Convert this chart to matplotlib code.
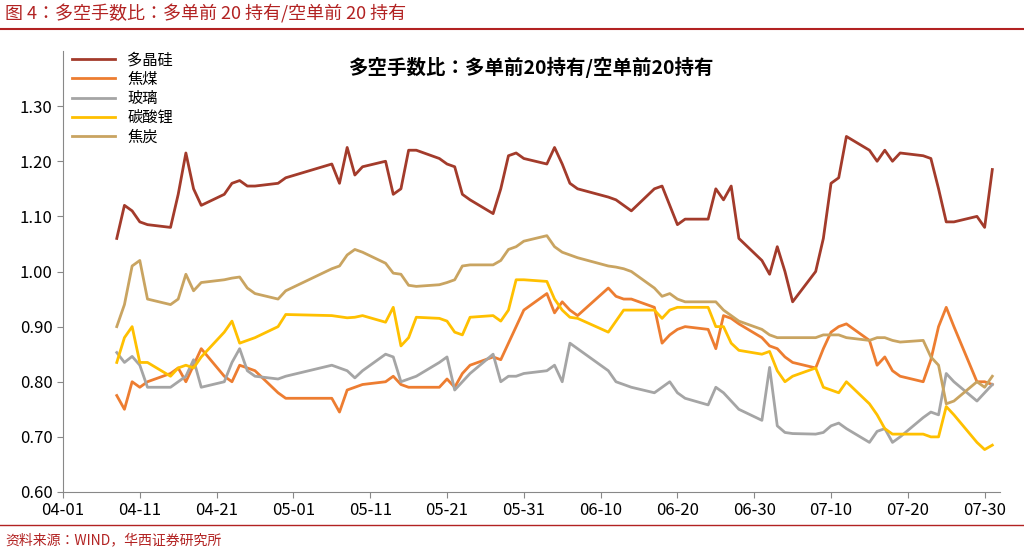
import matplotlib
matplotlib.use("Agg")
import matplotlib.pyplot as plt
import matplotlib.dates as mdates
import pandas as pd

plt.rcParams["font.family"] = ["Noto Sans CJK JP", "Noto Sans CJK SC", "Noto Sans CJK TC", "DejaVu Sans"]

# trading days
dates = pd.to_datetime(
    ["2024-04-%02d" % d for d in [8, 9, 10, 11, 12, 15, 16, 17, 18, 19, 22, 23, 24, 25, 26, 29, 30]]
    + ["2024-05-%02d" % d for d in [6, 7, 8, 9, 10, 13, 14, 15, 16, 17, 20, 21, 22, 23, 24, 27, 28, 29, 30, 31]]
    + ["2024-06-%02d" % d for d in [3, 4, 5, 6, 7, 11, 12, 13, 14, 17, 18, 19, 20, 21, 24, 25, 26, 27, 28]]
    + ["2024-07-%02d" % d for d in [1, 2, 3, 4, 5, 8, 9, 10, 11, 12, 15, 16, 17, 18, 19, 22, 23, 24, 25, 26, 29, 30, 31]]
)

polysilicon = [1.06, 1.12, 1.11, 1.09, 1.085, 1.08, 1.14, 1.215, 1.15, 1.12, 1.14, 1.16, 1.165, 1.155, 1.155, 1.16, 1.17,
               1.195, 1.16, 1.225, 1.175, 1.19, 1.20, 1.14, 1.15, 1.22, 1.22, 1.205, 1.195, 1.19, 1.14, 1.13, 1.105, 1.15, 1.21, 1.215, 1.205,
               1.195, 1.225, 1.195, 1.16, 1.15, 1.135, 1.13, 1.12, 1.11, 1.15, 1.155, 1.12, 1.085, 1.095, 1.095, 1.15, 1.13, 1.155, 1.06,
               1.02, 0.995, 1.045, 1.00, 0.945, 1.00, 1.06, 1.16, 1.17, 1.245, 1.22, 1.20, 1.22, 1.20, 1.215, 1.21, 1.205, 1.15, 1.09, 1.09, 1.10, 1.08, 1.185]
coking_coal = [0.775, 0.75, 0.80, 0.79, 0.80, 0.815, 0.825, 0.80, 0.83, 0.86, 0.81, 0.80, 0.83, 0.825, 0.82, 0.78, 0.77,
               0.77, 0.745, 0.785, 0.79, 0.795, 0.80, 0.81, 0.795, 0.79, 0.79, 0.79, 0.805, 0.79, 0.815, 0.83, 0.845, 0.84, 0.87, 0.90, 0.93,
               0.96, 0.925, 0.945, 0.93, 0.92, 0.97, 0.955, 0.95, 0.95, 0.935, 0.87, 0.885, 0.895, 0.90, 0.895, 0.86, 0.92, 0.915, 0.905,
               0.88, 0.865, 0.86, 0.845, 0.835, 0.825, 0.86, 0.89, 0.90, 0.905, 0.875, 0.83, 0.845, 0.82, 0.81, 0.80, 0.84, 0.90, 0.935, 0.90, 0.80, 0.80, 0.795]
glass = [0.853, 0.835, 0.846, 0.83, 0.79, 0.79, 0.80, 0.81, 0.84, 0.79, 0.80, 0.835, 0.86, 0.82, 0.81, 0.805, 0.81,
         0.83, 0.825, 0.82, 0.807, 0.82, 0.85, 0.845, 0.80, 0.805, 0.81, 0.835, 0.845, 0.785, 0.80, 0.815, 0.85, 0.80, 0.81, 0.81, 0.815,
         0.82, 0.83, 0.80, 0.87, 0.86, 0.82, 0.80, 0.795, 0.79, 0.78, 0.79, 0.80, 0.78, 0.77, 0.758, 0.79, 0.78, 0.765, 0.75,
         0.73, 0.826, 0.72, 0.708, 0.706, 0.705, 0.708, 0.72, 0.725, 0.715, 0.69, 0.71, 0.715, 0.69, 0.70, 0.735, 0.745, 0.74, 0.815, 0.80, 0.765, 0.78, 0.795]
lithium = [0.835, 0.88, 0.90, 0.835, 0.835, 0.81, 0.825, 0.83, 0.825, 0.845, 0.89, 0.91, 0.87, 0.875, 0.88, 0.90, 0.922,
           0.92, 0.918, 0.916, 0.917, 0.92, 0.908, 0.935, 0.865, 0.88, 0.917, 0.915, 0.91, 0.89, 0.885, 0.917, 0.92, 0.91, 0.93, 0.985, 0.985,
           0.982, 0.95, 0.93, 0.917, 0.915, 0.89, 0.91, 0.93, 0.93, 0.93, 0.915, 0.93, 0.935, 0.935, 0.935, 0.90, 0.90, 0.87, 0.857,
           0.85, 0.855, 0.82, 0.80, 0.81, 0.825, 0.79, 0.785, 0.78, 0.80, 0.76, 0.74, 0.715, 0.705, 0.705, 0.705, 0.70, 0.70, 0.755, 0.74, 0.69, 0.677, 0.685]
coke = [0.90, 0.94, 1.01, 1.02, 0.95, 0.94, 0.95, 0.995, 0.965, 0.98, 0.985, 0.988, 0.99, 0.97, 0.96, 0.95, 0.965,
        1.005, 1.01, 1.03, 1.04, 1.035, 1.015, 0.997, 0.995, 0.975, 0.973, 0.976, 0.98, 0.985, 1.01, 1.012, 1.012, 1.02, 1.04, 1.045, 1.055,
        1.065, 1.045, 1.035, 1.03, 1.025, 1.01, 1.008, 1.005, 1.0, 0.97, 0.955, 0.96, 0.95, 0.945, 0.945, 0.945, 0.93, 0.92, 0.91,
        0.895, 0.885, 0.88, 0.88, 0.88, 0.88, 0.885, 0.885, 0.885, 0.88, 0.875, 0.88, 0.88, 0.875, 0.872, 0.875, 0.845, 0.83, 0.76, 0.765, 0.80, 0.79, 0.81]

series = [("多晶硅", polysilicon, "#A33B2B"),
          ("焦煤", coking_coal, "#ED7D31"),
          ("玻璃", glass, "#A5A5A5"),
          ("碳酸锂", lithium, "#FFC000"),
          ("焦炭", coke, "#C9A461")]

fig = plt.figure(figsize=(10.24, 5.5), dpi=100)
ax = fig.add_axes([63 / 1024, 58 / 550, 937 / 1024, 441 / 550])

for name, vals, col in series:
    ax.plot(dates, vals, color=col, lw=2.0, label=name)

ax.set_ylim(0.6, 1.4)
ax.set_yticks([0.6, 0.7, 0.8, 0.9, 1.0, 1.1, 1.2, 1.3])
ax.set_yticklabels(["%.2f" % v for v in [0.6, 0.7, 0.8, 0.9, 1.0, 1.1, 1.2, 1.3]])
ticks = pd.date_range("2024-04-01", "2024-07-30", freq="10D")
ax.set_xticks(ticks)
ax.xaxis.set_major_formatter(mdates.DateFormatter("%m-%d"))
ax.set_xlim(pd.Timestamp("2024-04-01"), pd.Timestamp("2024-08-01"))
ax.tick_params(labelsize=12, length=4, color="#888888")
for s in ["top", "right"]:
    ax.spines[s].set_visible(False)
for s in ["left", "bottom"]:
    ax.spines[s].set_color("#888888")

ax.legend(loc="upper left", bbox_to_anchor=(0.0, 1.02), frameon=False, fontsize=11,
          handlelength=2.8, labelspacing=0.15, borderaxespad=0.2)
ax.set_title("多空手数比：多单前20持有/空单前20持有", fontsize=14, fontweight="bold",
             y=0.93, x=0.5)

fig.text(0.005, 0.975, "图 4：多空手数比：多单前 20 持有/空单前 20 持有", fontsize=13,
         color="#B22222", va="center")
fig.add_artist(plt.Line2D([0, 1], [0.948, 0.948], color="#B22222", lw=1.5))
fig.add_artist(plt.Line2D([0, 1], [0.045, 0.045], color="#B22222", lw=1))
fig.text(0.005, 0.018, "资料来源：WIND，华西证券研究所", fontsize=10, color="#B22222", va="center")

fig.savefig("out.png", dpi=100)
